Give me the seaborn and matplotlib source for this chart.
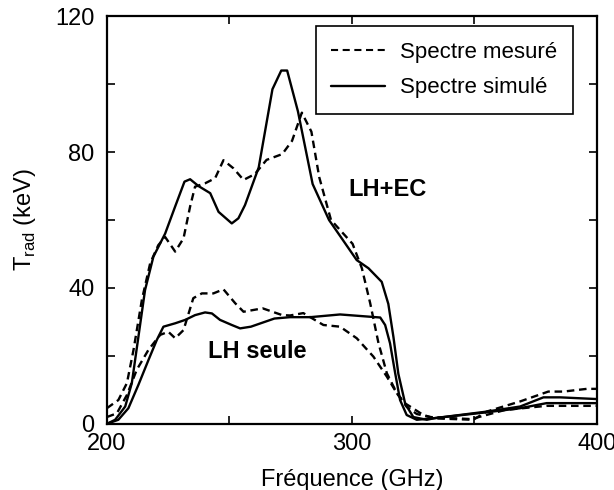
import numpy as np
import pandas as pd
import matplotlib
matplotlib.use("Agg")
import matplotlib.pyplot as plt
import seaborn as sns
from matplotlib.ticker import MultipleLocator
from matplotlib.lines import Line2D

# LH+EC, simulated (solid)
ec_sim_f = [200, 203.4, 207.5, 210.2, 212.9, 215.6, 219, 223.8, 227.9, 231.7, 234, 237.4,
            242.2, 245.6, 251, 253.7, 256.4, 262, 267.6, 271.2, 273.6, 278, 284, 290.7,
            295.5, 302, 306.8, 312.2, 314.9, 317, 319, 321.8, 325.1, 330.6, 334, 355,
            368.7, 378.2, 385, 400]
ec_sim_t = [0, 1.2, 5.1, 12, 25.7, 39.4, 49.2, 56, 64, 71.3, 72, 70,
            67.9, 62.4, 59, 60.5, 64.4, 75.5, 98.5, 104, 104, 92, 70.6, 60,
            55, 48.2, 45.8, 41.8, 35.3, 25.5, 14.7, 5.9, 2, 1.2, 1.7, 3.6,
            5.1, 7.8, 7.8, 7.3]

# LH+EC, measured (dashed)
ec_mes_f = [200, 204.7, 208.2, 210.9, 214.3, 217.7, 221, 223.8, 227.9, 231.3, 234, 236,
            240.1, 244.2, 247.6, 251.7, 255.8, 260.4, 265.2, 271.6, 275.6, 279.6, 283.5,
            286.7, 291.5, 300.3, 304.1, 307.5, 310.9, 314.3, 318.4, 321.8, 325.1, 329.2,
            334, 349.6, 355, 368.7, 380.2, 386.4, 395.9, 400]
ec_mes_t = [4.6, 7, 12, 21.8, 36.5, 47.3, 52.6, 55, 50.7, 54.6, 64, 69.8,
            70.8, 72.3, 77.6, 75.2, 71.8, 73.5, 77.7, 79.4, 83.3, 91.6, 86,
            72.6, 60, 53, 45.8, 35.5, 23.7, 14.9, 9, 6, 4.5, 2.6,
            1.6, 1.2, 3.6, 6.6, 9.5, 9.5, 10.3, 10.3]

# LH seule, simulated (solid)
lh_sim_f = [200, 204.7, 208.8, 212.9, 217, 220.4, 223.1, 227.9, 232, 236, 240.1, 242.9,
            246.2, 251, 254.4, 258.8, 268.4, 274.8, 283, 295.2, 311.6, 313.6, 315.6,
            317.7, 319.7, 322.4, 326.5, 334, 355, 368.7, 379.5, 400]
lh_sim_t = [0, 1.2, 4.6, 11.5, 18.8, 24.7, 28.6, 29.6, 30.6, 32, 32.8, 32.5,
            30.6, 29.1, 28.1, 28.6, 31, 31.4, 31.4, 32.2, 31.3, 29.1, 23.7,
            14.9, 7, 2.6, 1.2, 1.7, 3.4, 4.6, 6.1, 6.1]

# LH seule, measured (dashed)
lh_mes_f = [200, 204.1, 208.2, 212.2, 217, 221.8, 225.1, 227.9, 231.3, 235.3, 238.8,
            243.5, 247.6, 252.4, 255.8, 263.6, 271.6, 274.8, 280.2, 288.4, 295.2, 302,
            308.8, 314.3, 318.4, 322.4, 326.5, 332, 348.7, 362.6, 379.5, 400]
lh_mes_t = [2, 3.1, 8.5, 15.9, 21.8, 26.2, 27.1, 25.2, 27.6, 37, 38.4,
            38.4, 39.6, 35.5, 33, 34, 32, 31.9, 32.6, 29.1, 28.6, 25.2,
            19.8, 13.9, 9, 5, 2.9, 2, 1.4, 4.1, 5.3, 5.3]

sns.set_style("ticks")
plt.rcParams['font.family'] = ['Liberation Sans', 'DejaVu Sans']
plt.rcParams['mathtext.fontset'] = 'custom'
plt.rcParams['mathtext.rm'] = 'Liberation Sans'
plt.rcParams['text.color'] = 'black'
plt.rcParams['axes.labelcolor'] = 'black'
plt.rcParams['xtick.color'] = 'black'
plt.rcParams['ytick.color'] = 'black'

fig = plt.figure(figsize=(6.14, 4.90), dpi=100)
ax = fig.add_axes([0.174, 0.135, 0.798, 0.832])

dash = (0, (3.2, 2.0))
series = [
    (ec_mes_f, ec_mes_t, dash),
    (ec_sim_f, ec_sim_t, '-'),
    (lh_mes_f, lh_mes_t, dash),
    (lh_sim_f, lh_sim_t, '-'),
]
for f, t, ls in series:
    df = pd.DataFrame({'f': f, 't': t})
    sns.lineplot(data=df, x='f', y='t', color='black', linewidth=1.7,
                 linestyle=ls, ax=ax, sort=False)

ax.set_xlim(200, 400)
ax.set_ylim(0, 120)
ax.xaxis.set_major_locator(MultipleLocator(100))
ax.xaxis.set_minor_locator(MultipleLocator(50))
ax.yaxis.set_major_locator(MultipleLocator(40))
ax.yaxis.set_minor_locator(MultipleLocator(20))
ax.tick_params(which='both', direction='in', top=True, right=True, labelsize=17,
               width=1.2, length=6, colors='black')
ax.tick_params(axis='y', pad=9)
ax.tick_params(axis='x', pad=6.5)
for lab in ax.get_yticklabels():
    lab.set_verticalalignment('center_baseline')
for s in ax.spines.values():
    s.set_linewidth(1.6)
    s.set_color('black')

ax.set_xlabel('Fréquence (GHz)', fontsize=17, labelpad=10)
ax.set_ylabel(r'T$_\mathregular{rad}$ (keV)', fontsize=17, labelpad=12)

ax.text(314.5, 69, 'LH+EC', fontsize=17, fontweight='bold', ha='center', va='center')
ax.text(261.5, 21.4, 'LH seule', fontsize=17, fontweight='bold', ha='center', va='center')

handles = [Line2D([], [], color='black', lw=1.5, linestyle=(0, (3.4, 2.2))),
           Line2D([], [], color='black', lw=1.7, linestyle='-')]
leg = ax.legend(handles, ['Spectre mesuré', 'Spectre simulé'], loc='upper right',
                bbox_to_anchor=(0.951, 0.975), borderaxespad=0, fontsize=16,
                frameon=True, fancybox=False, edgecolor='black', handlelength=2.4,
                handletextpad=0.7, borderpad=0.7, labelspacing=0.65, framealpha=1)
leg.get_frame().set_linewidth(1.2)

fig.savefig('out.png', dpi=100)
